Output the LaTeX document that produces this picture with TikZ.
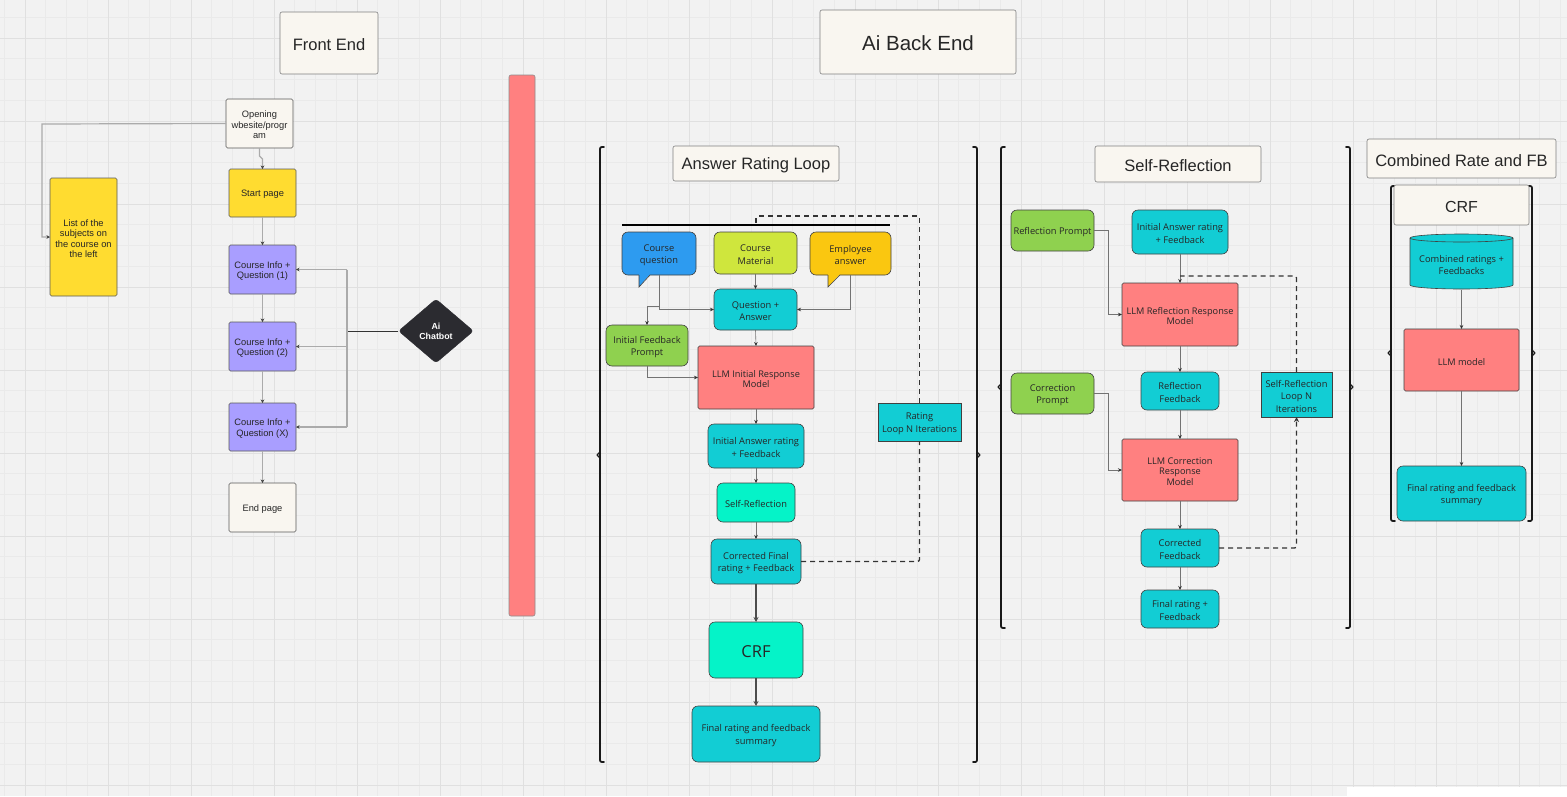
\documentclass[tikz,border=0pt]{standalone}
\usepackage{fontspec}
\setmainfont{Liberation Sans}
\newfontfamily\osans{Open Sans}
\usetikzlibrary{arrows.meta,shapes.geometric}

\definecolor{bg}{HTML}{F2F2F2}
\definecolor{gminor}{HTML}{EAEAEA}
\definecolor{gmajor}{HTML}{E0E0E0}
\definecolor{cream}{HTML}{F9F6F0}
\definecolor{feyel}{HTML}{FFDC30}
\definecolor{fepur}{HTML}{A99EFF}
\definecolor{dk}{HTML}{2B2B30}
\definecolor{salmon}{HTML}{FF8080}
\definecolor{cyanb}{HTML}{12CDD4}
\definecolor{aqua}{HTML}{05F3C8}
\definecolor{lgreen}{HTML}{8FD14F}
\definecolor{lime}{HTML}{CFE63D}
\definecolor{amber}{HTML}{FAC710}
\definecolor{blueb}{HTML}{2D9BF0}
\definecolor{txt}{HTML}{262626}

\newcommand\fefont{\fontsize{9.3}{10.5}\selectfont}
\newcommand\befont{\osans\fontsize{9.3}{12.6}\selectfont}
\newcommand\llmfont{\osans\fontsize{9.2}{10.6}\selectfont}
\newcommand\titlefnt{\fontsize{16.5}{20}\selectfont}

% box by corners: name, style, x1, y1, x2, y2, text
\newcommand\bx[7]{%
  \node[#2, minimum width={(#5)-(#3)}, minimum height={(#6)-(#4)}] (#1) at ({((#3)+(#5))/2},{((#4)+(#6))/2}) {};
  \node[#2, draw=none, fill=none, minimum width=0pt, minimum height=0pt, yshift=-1.6pt] (#1-t) at (#1.center) {#7};}
\newcommand\lbrk[4]{%
  \draw[brk] ({#1+4},#2) .. controls (#1,#2) .. (#1,{#2+4}) -- (#1,{#3-4}) .. controls (#1,#3) .. ({#1+4},#3);
  \draw[brk, line width=1.1pt] (#1,{#4-3}) -- ({#1-3},#4) -- (#1,{#4+3});}
\newcommand\rbrk[4]{%
  \draw[brk] ({#1-4},#2) .. controls (#1,#2) .. (#1,{#2+4}) -- (#1,{#3-4}) .. controls (#1,#3) .. ({#1-4},#3);
  \draw[brk, line width=1.1pt] (#1,{#4-3}) -- ({#1+3},#4) -- (#1,{#4+3});}

\tikzset{
  box/.style={inner sep=0pt, outer sep=0pt, align=center, text=txt, line width=0.6pt},
  febox/.style={box, draw=black!65, rounded corners=1.5pt, font=\fefont},
  bebox/.style={box, draw=black!75, rounded corners=6pt, font=\befont},
  llmbox/.style={bebox, fill=salmon, rounded corners=1.5pt, font=\llmfont},
  sqbox/.style={bebox, rounded corners=0pt},
  titlebox/.style={box, draw=black!50, fill=cream, rounded corners=2pt, font=\titlefnt},
  feline/.style={draw=black!33, line width=1.2pt},
  feconn/.style={feline, -{Stealth[length=3.5pt,width=3.5pt,color=black!75]}},
  beconn/.style={draw=black!55, line width=0.6pt, -{Stealth[length=4pt,width=3.5pt,color=black!80]}},
  darkconn/.style={draw=black!70, line width=1.3pt, -{Stealth[length=5pt,width=5pt]}},
  dashconn/.style={draw=black!80, line width=1.3pt, dash pattern=on 5pt off 4pt, rounded corners=2pt},
  brk/.style={line width=1.8pt, draw=black!90, line cap=round, line join=round},
}

\begin{document}
\begin{tikzpicture}[x=1pt,y=-1pt]
\useasboundingbox (0,0) rectangle (1567,796);
% background grid
\fill[bg] (0,0) rectangle (1567,796);
\foreach \i in {0,...,75} \draw[gminor, line width=0.6pt] ({4.25+20.75*\i},0) -- ({4.25+20.75*\i},796);
\foreach \j in {0,...,38} \draw[gminor, line width=0.6pt] (0,{17.25+20.75*\j}) -- (1567,{17.25+20.75*\j});
\foreach \i in {0,...,18} \draw[gmajor, line width=1pt] ({25+83*\i},0) -- ({25+83*\i},796);
\foreach \j in {0,...,9} \draw[gmajor, line width=1pt] (0,{38+83*\j}) -- (1567,{38+83*\j});
\fill[white] (1347,787) rectangle (1567,796);

% titles
\bx{tfe}{titlebox}{280}{12}{378}{74}{Front End}
\bx{tbe}{titlebox, font=\fontsize{20.5}{24}\selectfont}{820}{10}{1016}{74}{Ai Back End}
\bx{tarl}{titlebox}{673}{146}{839}{181}{Answer Rating Loop}
\bx{tsr}{titlebox}{1095}{146}{1261}{182}{Self-Reflection}
\bx{tcrf}{titlebox}{1367}{139}{1556}{178}{Combined Rate and FB}

% red separator
\bx{redbar}{box, draw=black!45, fill=salmon, rounded corners=2pt}{509}{75}{535}{616}{}

% ---------- front end ----------
\bx{open}{febox, fill=cream}{226}{99}{293}{148}{Opening\\wbesite/progr\\am}
\bx{start}{febox, fill=feyel}{229}{169}{296}{217}{Start page}
\bx{list}{febox, fill=feyel}{50}{178}{117}{296}{List of the\\subjects on\\the course on\\the left}
\bx{q1}{febox, fill=fepur}{229}{245}{296}{294}{Course Info +\\Question (1)}
\bx{q2}{febox, fill=fepur}{229}{322}{296}{371}{Course Info +\\Question (2)}
\bx{qx}{febox, fill=fepur}{229}{403}{296}{451}{Course Info +\\Question (X)}
\bx{endp}{febox, fill=cream}{229}{483}{296}{532}{End page}
\node[diamond, fill=dk, draw=dk, rounded corners=3pt, inner sep=0pt, minimum width=75pt, minimum height=64pt,
      text=white, align=center, font=\bfseries\fontsize{8.8}{10}\selectfont] (bot) at (436,331) {Ai\\Chatbot};

\coordinate (fl) at (42,124);
\coordinate (bus) at (347,331);
\draw[feconn] (open.south) -- ++(0,8) -- ++(3,3) -- (start.north);
\draw[feconn] (open.west) -- (fl) -- (fl |- list.west) -- (list.west);
\draw[feconn] (start.south) -- (q1.north);
\draw[feconn] (q1.south) -- (q2.north);
\draw[feconn] (q2.south) -- (qx.north);
\draw[feconn] (qx.south) -- (endp.north);
\draw[draw=black!80, line width=0.8pt] (bot.west) -- (bus);
\draw[feline] (bus |- q1.east) -- (bus |- qx.east);
\draw[feconn] (bus |- q1.east) -- (q1.east);
\draw[feconn] (bus |- q2.east) -- (q2.east);
\draw[feconn] (bus |- qx.east) -- (qx.east);

% ---------- answer rating loop ----------
\lbrk{600}{147}{762}{455}
\rbrk{977}{147}{762}{455}
\draw[line width=2.5pt, black] (622,225) -- (890,225);
\coordinate (bar) at (756,225);

\bx{cq}{bebox, fill=blueb}{622}{232}{696}{275}{Course\\question}
\fill[blueb] (639,273) -- (639,287) -- (651,273) -- cycle;
\draw[black!75, line width=0.6pt] (639,275) -- (639,287) -- (650,275);
\bx{cm}{bebox, fill=lime}{714}{232}{797}{274}{Course\\Material}
\bx{ea}{bebox, fill=amber}{810}{232}{891}{275}{Employee\\answer}
\fill[amber] (828,273) -- (828,287) -- (841,273) -- cycle;
\draw[black!75, line width=0.6pt] (828,275) -- (828,287) -- (840,275);
\bx{qa}{bebox, fill=cyanb}{714}{289}{797}{330}{Question +\\Answer}
\bx{ifp}{bebox, fill=lgreen}{606}{325}{688}{366}{Initial Feedback\\Prompt}
\bx{llmi}{llmbox}{698}{346}{814}{409}{LLM Initial Response\\Model}
\bx{iar}{bebox, fill=cyanb}{708}{424}{804}{468}{Initial Answer rating\\+ Feedback}
\bx{rl}{sqbox, fill=cyanb}{878}{403}{961}{441}{Rating\\Loop N Iterations}
\bx{sr}{bebox, fill=aqua}{717}{483}{795}{522}{Self-Reflection}
\bx{cf}{bebox, fill=cyanb}{711}{539}{801}{584}{Corrected Final\\rating + Feedback}
\bx{crf}{bebox, fill=aqua, font=\osans\fontsize{16.5}{18}\selectfont}{709}{622}{803}{678}{CRF}
\bx{frs}{bebox, fill=cyanb}{692}{706}{820}{762}{Final rating and feedback\\summary}

\coordinate (cqj) at (659,306);
\draw[beconn] (cq.south) |- (qa.west);
\draw[beconn] (cqj) -| (ifp.north);
\draw[beconn] (cm.south) -- (qa.north);
\draw[beconn] (ea.south) |- (qa.east);
\draw[beconn] (qa.south) -- (llmi.north);
\draw[beconn] (ifp.south) |- (llmi.west);
\draw[beconn] (llmi.south) -- (iar.north);
\draw[beconn] (iar.south) -- (sr.north);
\draw[beconn] (sr.south) -- (cf.north);
\draw[darkconn] (cf.south) -- (crf.north);
\draw[darkconn] (crf.south) -- (frs.north);
\draw[dashconn] (cf.east) -| (rl.south);
\draw[dashconn] (rl.north) |- (756,216) -- (bar);

% ---------- self-reflection ----------
\lbrk{1001}{147}{628}{387}
\rbrk{1350}{147}{628}{387}
\bx{rp}{bebox, fill=lgreen}{1011}{210}{1094}{251}{Reflection Prompt}
\bx{iar2}{bebox, fill=cyanb}{1132}{210}{1228}{254}{Initial Answer rating\\+ Feedback}
\bx{llmr}{llmbox}{1122}{283}{1238}{346}{LLM Reflection Response\\Model}
\bx{rf}{bebox, fill=cyanb}{1141}{372}{1219}{410}{Reflection\\Feedback}
\bx{srl}{sqbox, fill=cyanb}{1261}{372}{1332}{417}{Self-Reflection\\Loop N\\Iterations}
\bx{cp}{bebox, fill=lgreen}{1011}{373}{1094}{414}{Correction\\Prompt}
\bx{llmc}{llmbox}{1122}{439}{1238}{501}{LLM Correction\\Response\\Model}
\bx{cfb}{bebox, fill=cyanb}{1141}{529}{1219}{567}{Corrected\\Feedback}
\bx{frf}{bebox, fill=cyanb}{1141}{590}{1219}{628}{Final rating +\\Feedback}

\draw[beconn] (rp.east) -- ++(14,0) |- (llmr.west);
\draw[beconn] (iar2.south) -- (llmr.north);
\draw[dashconn] (srl.north) |- (1180,276);
\draw[beconn] (llmr.south) -- (rf.north);
\draw[beconn] (rf.south) -- (llmc.north);
\draw[beconn] (cp.east) -- ++(14,0) |- (llmc.west);
\draw[beconn] (llmc.south) -- (cfb.north);
\draw[beconn] (cfb.south) -- (frf.north);
\draw[dashconn, -{Stealth[length=5pt,width=5pt]}] (cfb.east) -| (srl.south);

% ---------- combined rate and FB ----------
\lbrk{1391}{186}{521}{353}
\rbrk{1532}{186}{521}{353}
\bx{crft}{titlebox, font=\fontsize{16}{19}\selectfont}{1394}{185}{1529}{225}{CRF}
\draw[black!75, line width=0.6pt, fill=cyanb] (1410,238) -- (1410,285)
  arc[start angle=180, end angle=0, x radius=51.5, y radius=4] -- (1513,238)
  arc[start angle=0, end angle=-180, x radius=51.5, y radius=4] -- cycle;
\draw[black!75, line width=0.6pt] (1410,238) arc[start angle=180, end angle=0, x radius=51.5, y radius=4];
\node[box, minimum width=103pt, minimum height=49pt, font=\befont] (cyl) at (1461.5,265) {Combined ratings +\\Feedbacks};
\bx{llmm}{llmbox}{1404}{329}{1519}{391}{LLM model}
\bx{frs2}{bebox, fill=cyanb}{1397}{466}{1526}{521}{Final rating and feedback\\summary}
\draw[beconn] (cyl.south) -- (llmm.north);
\draw[beconn] (llmm.south) -- (frs2.north);
\end{tikzpicture}
\end{document}
